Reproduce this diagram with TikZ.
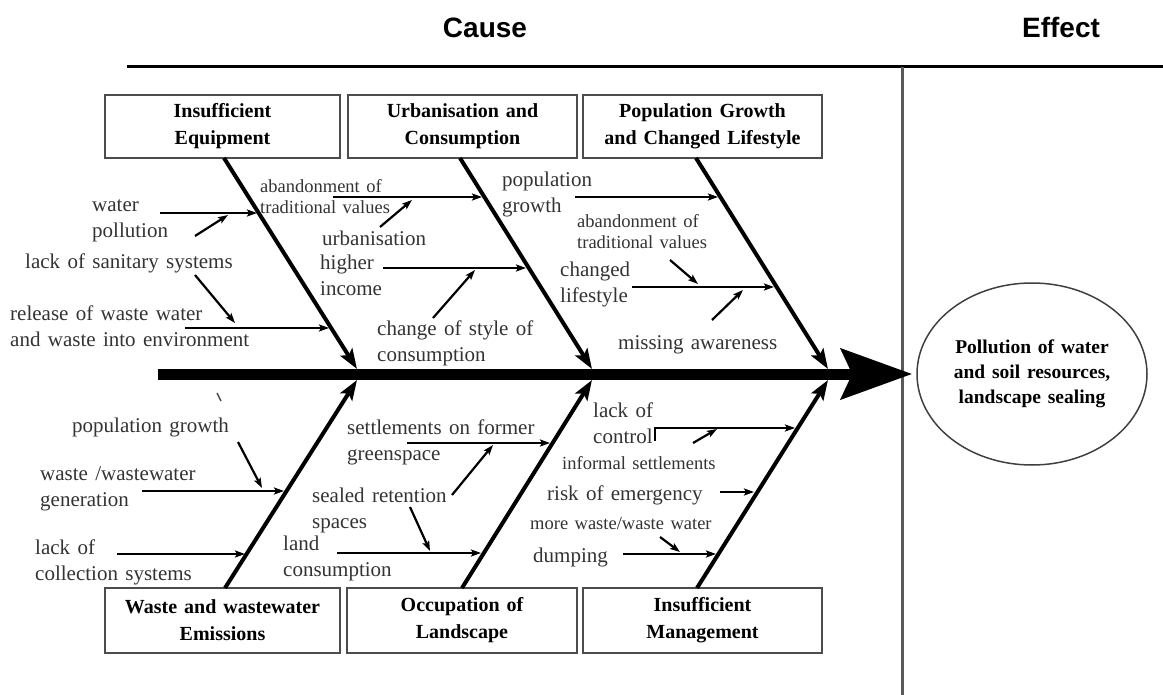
\documentclass[tikz,border=0pt]{standalone}
\usepackage{fontspec}
\setmainfont{Liberation Serif}[WordSpace=1.4]
\setsansfont{Liberation Sans}
\usetikzlibrary{arrows.meta,shapes.geometric}
\begin{document}
\begin{tikzpicture}[x=1pt,y=-1pt,
  txt/.style={font=\fontsize{21}{26}\selectfont, text=black!80, inner sep=0pt, align=left, anchor=base west, yshift=-2pt},
  stxt/.style={font=\fontsize{18.5}{21}\selectfont, text=black!80, inner sep=0pt, align=left, anchor=base west, yshift=-2pt},
  catbox/.style={draw=black!70, line width=1.3pt, minimum height=63pt, inner sep=0pt, align=center, font=\fontsize{20}{27}\selectfont\bfseries},
  bone/.style={line width=4pt, -{Stealth[length=20pt,width=14pt,inset=4pt]}},
  subarrow/.style={line width=2.2pt, -{Stealth[length=10pt,width=7pt,inset=2pt]}},
  headtxt/.style={font=\fontsize{28}{30}\selectfont\sffamily\bfseries, inner sep=0pt, anchor=base}
]
\useasboundingbox (0,0) rectangle (1163,695);

% headings and frame lines
\node[headtxt] (cause) at (485,38) {Cause};
\node[headtxt] (effect) at (1061,38) {Effect};
\coordinate (tl) at (127,67); \coordinate (tr) at (1163,67);
\draw[line width=3pt] (tl) -- (tr);
\coordinate (vt) at (902,67); \coordinate (vb) at (902,695);
\draw[line width=3pt, black!65] (vt) -- (vb);

% effect
\node[ellipse, draw=black!75, line width=1.5pt, minimum width=230pt, minimum height=182pt, align=center, font=\fontsize{19.5}{25}\selectfont\bfseries, inner sep=0pt] (eff) at (1032,374) {Pollution of water\\and soil resources,\\landscape sealing};

% category boxes
\node[catbox, minimum width=235pt] (c1) at (222.5,126.5) {Insufficient\\Equipment};
\node[catbox, minimum width=229pt] (c2) at (462.5,126.5) {Urbanisation and\\Consumption};
\node[catbox, minimum width=239pt] (c3) at (702.5,126.5) {Population Growth\\and Changed Lifestyle};
\node[catbox, minimum width=235pt, minimum height=65pt] (c4) at (222.5,620.5) {Waste and wastewater\\Emissions};
\node[catbox, minimum width=230pt, minimum height=65pt] (c5) at (462,620.5) {Occupation of\\Landscape};
\node[catbox, minimum width=239pt, minimum height=65pt] (c6) at (702.5,620.5) {Insufficient\\Management};

% spine
\coordinate (sp0) at (158,374);
\draw[line width=11pt, -{Stealth[length=71pt,width=50pt,inset=11pt]}] (sp0) -- ([xshift=-4pt]eff.west);

% bones
\coordinate (t1s) at (224,158); \coordinate (t1e) at (357,369);
\coordinate (t2s) at (460,158); \coordinate (t2e) at (592,369);
\coordinate (t3s) at (696,158); \coordinate (t3e) at (828,369);
\coordinate (b1s) at (225,588); \coordinate (b1e) at (357,380);
\coordinate (b2s) at (462,588); \coordinate (b2e) at (592,380);
\coordinate (b3s) at (697,588); \coordinate (b3e) at (828,380);
\draw[bone] (t1s) -- (t1e);
\draw[bone] (t2s) -- (t2e);
\draw[bone] (t3s) -- (t3e);
\draw[bone] (b1s) -- (b1e);
\draw[bone] (b2s) -- (b2e);
\draw[bone] (b3s) -- (b3e);

% cause texts (base anchor = baseline of the last line)
\node[txt] (wp) at (92,236) {water\\pollution};
\node[txt] (lss) at (25,267) {lack of sanitary systems};
\node[txt] (rel) at (10,344) {release of waste water\\and waste into environment};
\node[stxt] (atv1) at (260,212) {abandonment of\\traditional values};
\node[txt] (urb) at (322,244) {urbanisation};
\node[txt] (hi) at (320,294) {higher\\income};
\node[txt] (cos) at (377,359) {change of style of\\consumption};
\node[txt] (pg1) at (502,211) {population\\growth};
\node[stxt] (atv2) at (577,247) {abandonment of\\traditional values};
\node[txt] (cl) at (560,301) {changed\\lifestyle};
\node[txt] (ma) at (618,347) {missing awareness};
\node[txt] (pg2) at (72,430) {population growth};
\node[txt] (wwg) at (40,504) {waste /wastewater\\generation};
\node[txt] (lcs) at (35,578) {lack of\\collection systems};
\node[txt] (sfg) at (347,458) {settlements on former\\greenspace};
\node[txt] (srs) at (312,526) {sealed retention\\spaces};
\node[txt] (lc) at (283,574) {land\\consumption};
\node[txt] (loc) at (593,441) {lack of\\control};
\node[stxt] (is) at (562,467) {informal settlements};
\node[txt] (roe) at (547,498) {risk of emergency};
\node[stxt] (mww) at (530,527) {more waste/waste water};
\node[txt] (dmp) at (533,560) {dumping};

% horizontal sub-cause arrows
\coordinate (h1s) at (160,213); \coordinate (h1e) at (257,213);
\coordinate (h2s) at (185,328); \coordinate (h2e) at (329,328);
\coordinate (h3s) at (333,197); \coordinate (h3e) at (482,197);
\coordinate (h4s) at (383,268); \coordinate (h4e) at (526,268);
\coordinate (h5s) at (575,197); \coordinate (h5e) at (718,197);
\coordinate (h6s) at (632,287); \coordinate (h6e) at (774,287);
\coordinate (h7s) at (142,491); \coordinate (h7e) at (284,491);
\coordinate (h8s) at (117,554); \coordinate (h8e) at (245,554);
\coordinate (h9s) at (407,443); \coordinate (h9e) at (550,443);
\coordinate (h10s) at (337,553); \coordinate (h10e) at (481,553);
\coordinate (h11a) at (655,441); \coordinate (h11s) at (655,428); \coordinate (h11e) at (795,428);
\coordinate (h12s) at (720,492); \coordinate (h12e) at (754,492);
\coordinate (h13s) at (623,554); \coordinate (h13e) at (716,554);
\draw[subarrow] (h1s) -- (h1e);
\draw[subarrow] (h2s) -- (h2e);
\draw[subarrow] (h3s) -- (h3e);
\draw[subarrow] (h4s) -- (h4e);
\draw[subarrow] (h5s) -- (h5e);
\draw[subarrow] (h6s) -- (h6e);
\draw[subarrow] (h7s) -- (h7e);
\draw[subarrow] (h8s) -- (h8e);
\draw[subarrow] (h9s) -- (h9e);
\draw[subarrow] (h10s) -- (h10e);
\draw[subarrow] (h11a) -- (h11s) -- (h11e);
\draw[subarrow] (h12s) -- (h12e);
\draw[subarrow] (h13s) -- (h13e);

% diagonal secondary arrows
\coordinate (d1s) at (195,236); \coordinate (d1e) at (228,215);
\coordinate (d2s) at (195,275); \coordinate (d2e) at (235,323);
\coordinate (d3s) at (380,227); \coordinate (d3e) at (412,200);
\coordinate (d4s) at (433,318); \coordinate (d4e) at (475,270);
\coordinate (d5s) at (670,260); \coordinate (d5e) at (698,284);
\coordinate (d6s) at (712,320); \coordinate (d6e) at (743,290);
\coordinate (d7s) at (238,442); \coordinate (d7e) at (262,488);
\coordinate (d8s) at (452,495); \coordinate (d8e) at (493,445);
\coordinate (d9s) at (410,507); \coordinate (d9e) at (430,551);
\coordinate (d10s) at (693,443); \coordinate (d10e) at (717,429);
\coordinate (d11s) at (660,537); \coordinate (d11e) at (680,552);
\foreach \i in {1,...,11} {\draw[subarrow] (d\i s) -- (d\i e);}

% small stray stroke
\coordinate (tk1) at (217,393); \coordinate (tk2) at (221,401);
\draw[line width=1.5pt, black!70] (tk1) -- (tk2);
\end{tikzpicture}
\end{document}
